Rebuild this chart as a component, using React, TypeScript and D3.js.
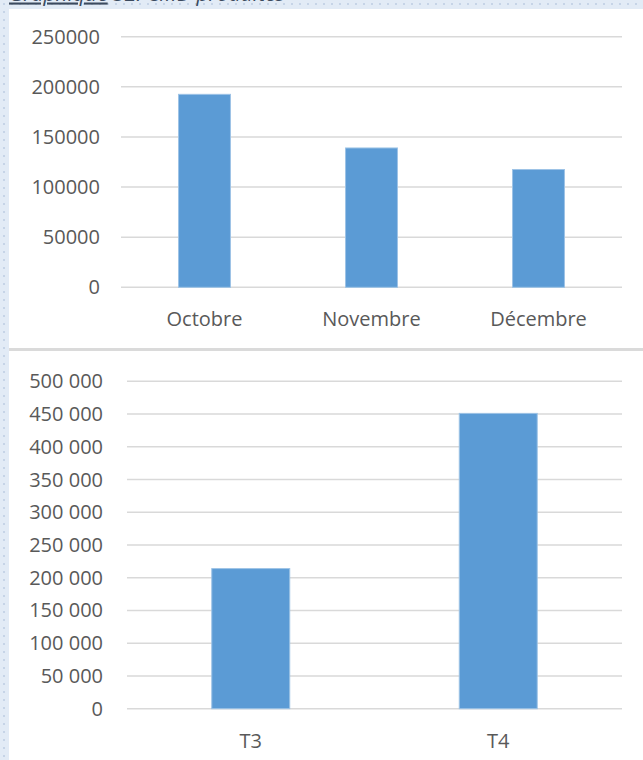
import React from "react";
import * as d3 from "d3";

const months = ["Octobre", "Novembre", "Décembre"];
const monthValues = [192500, 139000, 117500];
const monthTicks = [0, 50000, 100000, 150000, 200000, 250000];

const quarters = ["T3", "T4"];
const quarterValues = [214000, 451000];
const quarterTicks = [0, 50000, 100000, 150000, 200000, 250000, 300000, 350000, 400000, 450000, 500000];

const titleUnderlined = "Graphique";
const titleRest = " 32: CMD produites";

const W = 643;
const H = 760;
const FONT = "'Open Sans', 'Noto Sans', sans-serif";
const TEXT = "#595959";
const GRID = "#d9d9d9";
const BAR = "#5b9bd5";
const BAR_EDGE = "#9dc3e6";

const frLocale = d3.formatLocale({ decimal: ",", thousands: " ", grouping: [3], currency: ["", " €"] });
const fmtSpace = frLocale.format(",d");
const fmtPlain = d3.format("d");

type ChartProps = {
  cats: string[];
  vals: number[];
  ticks: number[];
  yTop: number;
  yZero: number;
  xLeft: number;
  xRight: number;
  labelRight: number;
  pad: number;
  fmt: (n: number) => string;
};

function BarChart({ cats, vals, ticks, yTop, yZero, xLeft, xRight, labelRight, pad, fmt }: ChartProps) {
  const maxT = ticks[ticks.length - 1];
  const y = d3.scaleLinear().domain([0, maxT]).range([yZero, yTop]);
  const x = d3.scaleBand<string>().domain(cats).range([xLeft, xRight]).paddingInner(pad).paddingOuter(pad / 2);
  return (
    <g>
      {ticks.map((t) => (
        <g key={t}>
          <line x1={xLeft} x2={xRight} y1={y(t)} y2={y(t)} stroke={GRID} strokeWidth={1.5} />
          <text x={labelRight} y={y(t)} dy="0.35em" textAnchor="end" fontFamily={FONT} fontSize={20} fill={TEXT}>
            {fmt(t)}
          </text>
        </g>
      ))}
      {cats.map((c, i) => (
        <rect
          key={c}
          x={x(c)!}
          y={y(vals[i])}
          width={x.bandwidth()}
          height={yZero - y(vals[i])}
          fill={BAR}
          stroke={BAR_EDGE}
          strokeWidth={1}
        />
      ))}
      {cats.map((c) => (
        <text
          key={"l" + c}
          x={x(c)! + x.bandwidth() / 2}
          y={yZero + 32}
          dy="0.35em"
          textAnchor="middle"
          fontFamily={FONT}
          fontSize={20}
          fill={TEXT}
        >
          {c}
        </text>
      ))}
    </g>
  );
}

export default function App() {
  return (
    <svg width={W} height={H} style={{ position: "absolute", left: 0, top: 0 }}>
      <defs>
        <pattern id="dots" width="8" height="8" patternUnits="userSpaceOnUse">
          <rect width="8" height="8" fill="#e2ebf6" />
          <rect x="3" y="3" width="2" height="2" fill="#c6d4e7" />
        </pattern>
      </defs>
      <rect width={W} height={H} fill="url(#dots)" />
      <rect x={9} y={9} width={W - 9} height={339} fill="#ffffff" />
      <rect x={9} y={348} width={W - 9} height={3} fill="#dadada" />
      <rect x={9} y={351} width={W - 9} height={H - 351} fill="#ffffff" />
      <text x={9} y={0.5} fontFamily={FONT} fontStyle="italic" fontSize={21} fill="#3b4a5e">
        <tspan textDecoration="underline">{titleUnderlined}</tspan>
        <tspan>{titleRest}</tspan>
      </text>
      <BarChart
        cats={months}
        vals={monthValues}
        ticks={monthTicks}
        yTop={36.7}
        yZero={287.3}
        xLeft={121}
        xRight={622}
        labelRight={100}
        pad={0.689}
        fmt={fmtPlain}
      />
      <BarChart
        cats={quarters}
        vals={quarterValues}
        ticks={quarterTicks}
        yTop={381.3}
        yZero={708.7}
        xLeft={127}
        xRight={622}
        labelRight={103}
        pad={0.685}
        fmt={fmtSpace}
      />
    </svg>
  );
}
